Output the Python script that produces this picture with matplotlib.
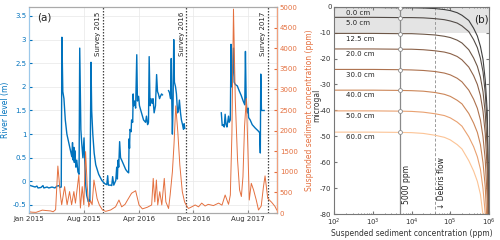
import numpy as np
import matplotlib.pyplot as plt
from matplotlib.ticker import FormatStrFormatter, LogLocator, NullFormatter

plt.rcParams['font.family'] = ['DejaVu Sans']
plt.rcParams['axes.unicode_minus'] = False

# ---------------- (a) river level and SSC, x in days since 1 Jan 2015
river_day = [0, 13, 27, 35, 40, 53, 62, 66, 80, 88, 102, 115, 124, 133, 137, 143,
             146, 150, 155, 161, 168, 177, 186, 190, 193, 196, 199, 201, 203, 208, 212,
             217, 222, 225, 230, 234, 239, 244, 247, 252, 256, 263, 267, 270, 275, 278,
             283, 289, 296, 309, 323, 336, 345, 349, 352, 362, 367, 371, 376, 385, 389,
             392, 395, 398, 402, 406, 411, 420, 429, 437, 442, 444, 446, 448, 453, 455,
             460, 462, 464, 468, 473, 478, 481, 486, 490, 499, 508, 517, 521, 526, 530,
             533, 537, 541, 546, 550, 555, 561, 566, 570, 574, 579, 583, 588, 592,
             600,
             619, 623, 628, 631, 633, 636, 639, 642, 645, 650, 654, 659, 663, 667, 672,
             676, 681, 685, 688, 691,
             760,
             853, 857, 862, 866, 870, 874, 878, 885, 888, 893, 896, 899, 903, 907, 910,
             915, 924, 932, 941, 950, 957, 960, 963, 966, 970, 972, 974, 981, 990, 1003,
             1016, 1023, 1026, 1028, 1031, 1043]
river_level = [-0.08, -0.10, -0.12, -0.10, -0.14, -0.13, -0.09, -0.14, -0.12, -0.14, -0.12,
               -0.14, -0.10, -0.09, -0.13, -0.12,
               3.05, 1.90, 1.75, 1.30, 1.00, 0.80, 0.60, 0.52, 0.82, 0.45, 0.72, 0.40, 0.65,
               0.30, 0.45, 0.20, 0.15, 2.82, 1.10, 0.80, 0.50, 0.92, 0.45, -0.10, -0.30,
               -0.43, -0.40, -0.42, 2.52, 1.50, 1.00, 0.60, 0.35, 0.15, 0.02, -0.05, -0.07,
               0.12, -0.08, -0.08, -0.09, 0.10, -0.08, 0.02, 0.30, 0.05, 0.45, 0.30, 0.84,
               0.50, 0.45, 0.35, 0.25, 0.20, 0.18, 0.90, 0.70, 1.10, 1.05, 1.30, 1.25, 1.85,
               1.60, 1.70, 1.55, 2.68, 1.70, 1.80, 1.60, 1.45, 1.30, 1.25, 1.38, 1.20, 1.25,
               2.64, 1.60, 1.75, 1.65, 1.75, 1.45, 1.60, 2.26, 1.90, 1.85, 1.75, 1.80, 1.85,
               1.83,
               np.nan,
               1.92, 1.88, 1.75, 2.60, 1.80, 1.00, 1.60, 3.00, 2.10, 2.00, 1.85, 1.45, 1.50,
               1.72, 1.45, 1.30, 1.20, 1.10, 1.22, 1.12,
               np.nan,
               1.45, 1.18, 1.20, 1.15, 1.42, 1.20, 1.15, 1.38, 1.25, 1.30, 2.90, 2.00, 2.30,
               2.82, 2.10, 2.05, 2.02, 1.92, 1.82, 1.70, 1.62, 2.75, 1.80, 1.50, 1.45, 1.55,
               1.35, 1.30, 1.20, 1.13, 1.07, 1.03, 0.60, 2.27, 1.50, 1.50]

ssc_day = [0, 13, 31, 44, 59, 75, 96, 107, 118, 128, 140, 145, 158, 169, 180, 189, 199,
           206, 221, 228, 236, 243, 251, 258, 265, 273, 280, 288, 302, 312, 326, 340,
           362, 384, 399, 411, 426, 437, 455, 473, 488, 503, 525, 544, 551, 558, 565,
           571, 580, 589, 600, 607, 619, 626, 636, 643, 651, 660, 669, 680, 690, 697,
           707, 722, 737, 752, 766, 781, 795, 818, 841, 856, 870, 885, 893, 900, 907,
           915, 925, 934, 942, 949, 956, 964, 971, 977, 986, 996, 1008, 1018, 1030,
           1040, 1047, 1059, 1077, 1091, 1099]
ssc_ppm = [30, 20, 15, 40, 70, 60, 50, 30, 80, 1140, 400, 200, 640, 200, 520, 200, 520,
           240, 920, 120, 640, 200, 1490, 680, 150, 300, 200, 800, 350, 195, 73, 40,
           73, 150, 315, 150, 210, 315, 480, 540, 195, 100, 140, 195, 840, 270, 800,
           195, 517, 195, 840, 270, 110, 437, 1000, 1650, 2600, 1970, 1165, 517, 270,
           195, 110, 150, 195, 150, 240, 170, 210, 180, 240, 190, 437, 210, 437, 1930,
           4950, 2740, 1290, 560, 400, 880, 2100, 2780, 1530, 315, 720, 560, 315, 73,
           170, 640, 900, 355, 255, 160, 73]

survey_day = [327, 698, 1060]
survey_label = ['Survey 2015', 'Survey 2016', 'Survey 2017']
date_tick_day = [0, 243, 486, 729, 972]
date_tick_label = ['Jan 2015', 'Aug 2015', 'Apr 2016', 'Dec 2016', 'Aug 2017']

# ---------------- (b) gravity effect vs concentration
conc_ppm = [1e2, 1e3, 5e3, 1e4, 2e4, 4e4, 7e4, 1e5, 1.5e5, 2e5, 3e5, 4e5, 5e5, 6e5,
            7e5, 8e5, 9e5, 9.5e5, 1e6]
depth_cm = [0, 5, 12.5, 20, 30, 40, 50, 60]
gravity_ugal = [
    [-0.3, -0.3, -0.4, -0.4, -0.5, -0.7, -1.1, -1.5, -2.3, -3.3, -5.3, -8.3, -11.3,
     -15.3, -20.3, -28.3, -40.3, -60.3, -100.3],
    [-4.1, -4.1, -4.2, -4.2, -4.3, -4.6, -5.0, -5.5, -6.3, -7.4, -9.6, -12.7, -15.8,
     -19.9, -25.1, -33.3, -45.8, -65.8, -104.9],
    [-10.3, -10.3, -10.4, -10.4, -10.6, -10.9, -11.4, -11.9, -12.9, -14.0, -16.6, -19.8,
     -23.0, -27.2, -32.8, -41.2, -54.5, -74.5, -112.4],
    [-16.3, -16.3, -16.4, -16.4, -16.6, -17.0, -17.5, -18.1, -19.2, -20.5, -23.3, -26.6,
     -30.0, -34.3, -40.3, -49.0, -63.0, -83.0, -119.6],
    [-24.2, -24.2, -24.3, -24.4, -24.6, -25.0, -25.6, -26.3, -27.6, -29.0, -32.2, -35.7,
     -39.2, -43.7, -50.2, -59.2, -74.2, -94.2, -129.2],
    [-32.2, -32.2, -32.3, -32.4, -32.6, -33.1, -33.8, -34.6, -36.1, -37.5, -41.2, -44.9,
     -48.5, -53.2, -60.2, -69.5, -85.5, -105.5, -138.9],
    [-40.2, -40.2, -40.3, -40.4, -40.7, -41.3, -42.0, -42.9, -44.5, -46.1, -50.2, -54.0,
     -57.9, -62.7, -70.2, -79.9, -96.9, -116.9, -148.5],
    [-48.4, -48.4, -48.5, -48.6, -48.9, -49.6, -50.4, -51.4, -53.2, -54.9, -59.4, -63.4,
     -67.4, -72.4, -80.4, -90.4, -108.4, -128.4, -158.4],
]
curve_colors = ['#3f3f3f', '#524b47', '#6d5747', '#8c6249', '#ad724f', '#cc8658',
                '#e9a171', '#fcc496']
marker_ppm = 5000
debris_ppm = 4e4

blue = '#0072BD'
orange = '#E4703F'

fig = plt.figure(figsize=(5, 2.4), dpi=100)

# ---------- panel (a)
ax = fig.add_axes([0.058, 0.1125, 0.496, 0.8583])
ax.plot(river_day, river_level, color=blue, lw=1.0, zorder=3)
ax.set_xlim(0, 1100)
ax.set_ylim(-0.67, 3.69)
ax.set_yticks(np.arange(-0.5, 3.51, 0.5))
ax.yaxis.set_major_formatter(FormatStrFormatter('%g'))
ax.set_xticks(date_tick_day)
ax.set_xticklabels(date_tick_label)
ax.grid(True, color='#e8e8e8', lw=0.5)
ax.set_axisbelow(True)
ax.tick_params(direction='in', length=2, labelsize=5, pad=2)
ax.tick_params(axis='y', colors=blue, labelcolor=blue)
ax.tick_params(axis='x', colors='#888888', labelcolor='#333333')
ax.set_ylabel('River level (m)', color=blue, fontsize=5.5)
ax.yaxis.set_label_coords(-0.078, 0.5)
for s in ['top', 'bottom']:
    ax.spines[s].set_color('#aaaaaa')
ax.spines['left'].set_color('#9cc8ea')

for d, lab in zip(survey_day, survey_label):
    ax.axvline(d, color='#444444', ls=(0, (1.2, 1.2)), lw=0.9, zorder=2)
    ax.text(d - 8, 3.6, lab, rotation=90, ha='right', va='top', fontsize=5,
            color='#222222')
ax.text(37, 3.4, '(a)', fontsize=7.5, color='#222222')

ax2 = ax.twinx()
ax2.plot(ssc_day, ssc_ppm, color=orange, lw=0.7, zorder=2)
ax2.set_ylim(0, 5000)
ax2.set_yticks(np.arange(0, 5001, 500))
ax2.tick_params(direction='in', length=2, labelsize=5, pad=2, colors=orange,
                labelcolor=orange)
ax2.set_ylabel('Suspended sediment concentration (ppm)', color=orange, fontsize=5.5)
ax2.yaxis.set_label_coords(1.112, 0.5)
ax2.spines['right'].set_color('#f2a07c')
ax2.spines['left'].set_color('#9cc8ea')
for s in ['top', 'bottom']:
    ax2.spines[s].set_color('#aaaaaa')

# ---------- panel (b)
bx = fig.add_axes([0.6686, 0.1083, 0.3094, 0.8637])
bx.axhspan(-10, 0, color='#e4e4e4', lw=0, zorder=0)
bx.axvline(marker_ppm, color='#8a8a8a', lw=0.9, zorder=1)
bx.axvline(debris_ppm, color='#9a9a9a', lw=0.7, ls=(0, (3, 2)), zorder=1)
for depth, g, c in zip(depth_cm, gravity_ugal, curve_colors):
    bx.plot(conc_ppm, g, color=c, lw=0.8, zorder=2)
    i = conc_ppm.index(marker_ppm)
    bx.plot(conc_ppm[i], g[i], 'o', ms=2.8, mfc='white', mec='#8a8a8a', mew=0.6,
            zorder=3)
    bx.text(200, g[0] - 0.9, '%.1f cm' % depth, fontsize=5, va='top', ha='left',
            color='#222222')
bx.text(5600, -76, '5000 ppm', rotation=90, ha='left', va='bottom', fontsize=5.5,
        color='#222222')
bx.text(4.6e4, -78, '\u2193 Debris flow', rotation=90, ha='left', va='bottom',
        fontsize=5.5, color='#222222')
bx.text(0.95, 0.94, '(b)', transform=bx.transAxes, ha='center', va='center',
        fontsize=7.5, color='#222222')

bx.set_xscale('log')
bx.set_xlim(1e2, 1e6)
bx.set_ylim(-80, 0)
bx.set_yticks(np.arange(-80, 1, 10))
bx.xaxis.set_major_locator(LogLocator(base=10, numticks=10))
bx.xaxis.set_minor_locator(LogLocator(base=10, subs=np.arange(2, 10), numticks=20))
bx.xaxis.set_minor_formatter(NullFormatter())
bx.tick_params(which='both', direction='in', top=True, right=True, labelsize=5,
               pad=2, colors='#777777', labelcolor='#333333')
bx.tick_params(which='major', length=2)
bx.tick_params(which='minor', length=1)
bx.set_xlabel('Suspended sediment concentration (ppm)', fontsize=5.5, labelpad=1,
              color='#333333')
for s in bx.spines.values():
    s.set_color('#777777')
fig.text(0.634, 0.56, 'microgal', rotation=90, ha='center', va='center', fontsize=5.5,
         color='#333333')

fig.savefig('out.png', dpi=100)
